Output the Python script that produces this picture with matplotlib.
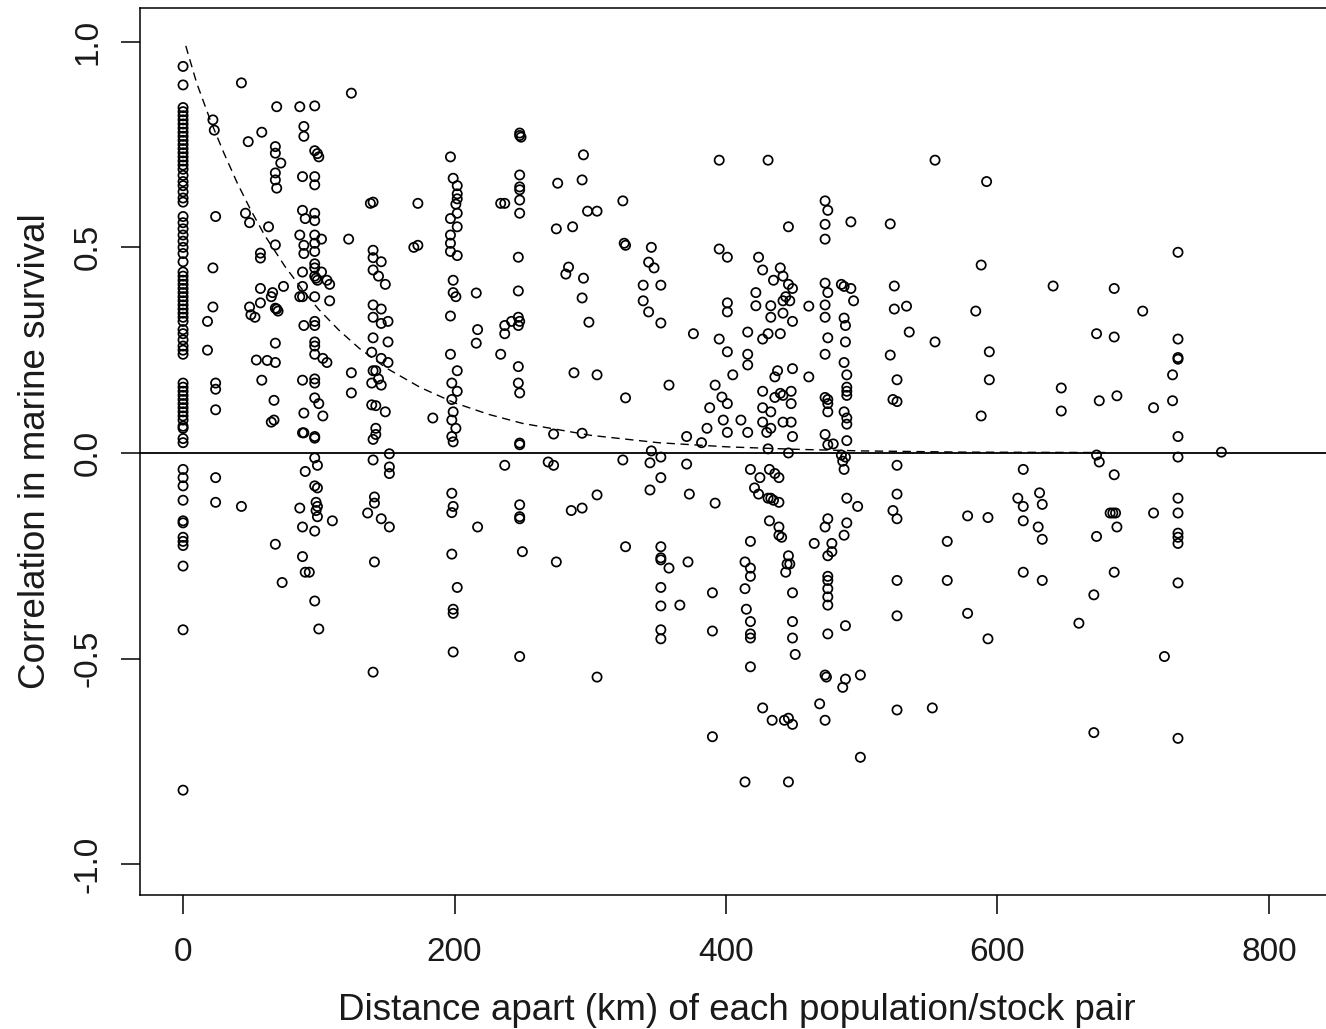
import matplotlib
matplotlib.use("Agg")
import matplotlib.pyplot as plt

# ── Data: distance (km) between each population/stock pair and survival correlation ──
dist = [
    # 0 km column
    0, 0, 0, 0, 0, 0, 0, 0, 0, 0, 0, 0, 0, 0, 0, 0, 0, 0, 0, 0, 0, 0, 0, 0,
    0, 0, 0, 0, 0, 0, 0, 0, 0, 0, 0, 0, 0, 0, 0, 0, 0, 0, 0, 0, 0, 0, 0, 0,
    0, 0, 0, 0, 0, 0, 0, 0, 0, 0, 0, 0, 0, 0, 0, 0, 0, 0, 0, 0, 0, 0, 0, 0,
    0, 0, 0, 0, 0,
    # 18-74 km
    22, 23, 24, 22, 22, 18, 18, 24, 24, 24, 24, 24, 43, 43,
    48, 58, 46, 49, 63, 57, 57, 57, 65, 57, 49, 50, 54, 62, 58, 53,
    69, 68, 68, 72, 68, 68, 69, 68, 68, 69, 70, 68, 68, 67, 67, 65, 68, 73,
    74, 66,
    # 86-110 km
    86, 88, 90, 89, 89, 86, 88, 89, 89, 88, 88, 86, 89, 88, 89, 88, 88, 89,
    90, 86, 88, 88, 90,
    97, 97, 99, 100, 97, 97, 97, 97, 97, 102, 97, 97, 97, 97, 102, 97, 98, 99,
    106, 108, 97, 108, 97, 97, 97, 97, 97, 103, 106, 97, 97, 97, 100, 103, 97,
    97, 97, 99, 97, 99, 98, 99, 98, 99, 110, 97, 93, 97, 100,
    # 120-190 km
    124, 122, 124, 124,
    138, 140, 140, 140, 146, 140, 144, 149, 140, 146, 151, 146, 140, 140, 151,
    139, 146, 151, 140, 142, 144, 139, 146, 139, 142, 149, 142, 142, 140, 140,
    152, 152, 152, 141, 141, 136, 146, 152, 141, 140,
    173, 170, 173, 184,
    # ~200 km
    197, 199, 202, 202, 202, 201, 202, 197, 202, 197, 197, 197, 202, 199, 199,
    201, 197, 197, 202, 198, 202, 198, 199, 198, 201, 198, 199, 198, 199, 198,
    198, 202, 199, 199, 199,
    216, 217, 216, 217,
    # 230-310 km
    234, 237, 248, 248, 249, 248, 248, 248, 248, 248, 247, 247, 234, 237, 237,
    242, 247, 248, 247, 247, 247, 248, 248, 248, 237, 248, 248, 248, 250, 248,
    276, 294, 295, 298, 305, 275, 287, 284, 282, 295, 294, 299, 288, 305, 273,
    294, 269, 273, 305, 286, 294, 275, 305,
    # 320-395 km
    324, 325, 326, 345, 343, 347, 339, 352, 339, 343, 352, 326, 345, 352, 344,
    352, 344, 324, 326, 352, 352, 352, 358, 352, 352, 352, 352,
    358, 376, 371, 373, 392, 372, 390, 366, 390, 390, 386, 382, 371,
    # 395-420 km
    395, 395, 401, 401, 401, 395, 401, 416, 416, 416, 405, 392, 397, 401, 388,
    398, 401, 411, 416, 418, 421, 418, 414, 418, 418, 414, 415, 418, 418, 418,
    418, 414, 427,
    # 420-450 km
    431, 446, 424, 440, 427, 435, 442, 446, 449, 422, 444, 442, 447, 422, 433,
    433, 442, 449, 427, 431, 440, 438, 449, 436, 427, 442, 448, 436, 448, 440,
    427, 433, 427, 433, 430, 442, 448, 449, 431, 446,
    425, 432, 436, 439, 424, 431, 433, 435, 439, 432, 439, 439, 441, 446, 445,
    447, 444, 449, 449, 449, 451, 434, 443, 449, 446, 446,
    461, 461,
    # 460-500 km
    473, 475, 473, 473, 473, 475, 473, 473, 475, 473, 473, 475, 475, 475, 473,
    475, 479, 485, 488, 486,
    475, 473, 465, 478, 478, 475, 475, 475, 475, 475, 475, 475, 473, 474, 469,
    473,
    492, 485, 487, 492, 494, 487, 488, 488, 487, 489, 489, 489, 489, 487, 489,
    489, 489, 487, 489, 497, 489, 487, 488, 488, 486, 499, 499,
    # 520-600 km
    521, 524, 524, 533, 535, 521, 526, 523, 526, 526, 526, 523, 526, 526, 526,
    526,
    554, 554, 563, 563, 552,
    592, 588, 584, 594, 594, 588, 578, 593, 578, 593,
    # 610-770 km
    619, 615, 619, 619, 619,
    641, 647, 647, 631, 633, 630, 633, 633,
    686, 707, 673, 686, 675, 688, 673, 675, 686, 683, 685, 687, 688, 673, 686,
    671, 660, 671,
    733, 733, 733, 733, 729, 715, 729, 733, 733, 733, 733, 733, 733, 733, 715,
    733, 723, 733,
    765,
]

corr = [
    # 0 km column
    0.94, 0.895, 0.84, 0.83, 0.82, 0.81, 0.80, 0.79, 0.78, 0.77, 0.76, 0.75,
    0.74, 0.73, 0.72, 0.71, 0.70, 0.69, 0.675, 0.66, 0.65, 0.635, 0.62, 0.61,
    0.575, 0.56, 0.545, 0.53, 0.515, 0.50, 0.485, 0.465, 0.44, 0.43, 0.42, 0.41,
    0.40, 0.39, 0.38, 0.37, 0.36, 0.35, 0.34, 0.33, 0.32, 0.30, 0.29, 0.275,
    0.26, 0.25, 0.24, 0.17, 0.16, 0.15, 0.14, 0.13, 0.12, 0.11, 0.10, 0.09,
    0.08, 0.065, 0.06, 0.035, 0.025, -0.04, -0.06, -0.08, -0.115, -0.165,
    -0.17, -0.205, -0.215, -0.225, -0.275, -0.43, -0.82,
    # 18-74 km
    0.81, 0.785, 0.575, 0.45, 0.355, 0.32, 0.25, 0.17, 0.155, 0.105, -0.06, -0.12,
    0.90, -0.13,
    0.757, 0.78, 0.583, 0.56, 0.55, 0.486, 0.474, 0.40, 0.38, 0.365, 0.355,
    0.336, 0.226, 0.225, 0.177, 0.33,
    0.842, 0.745, 0.729, 0.705, 0.681, 0.664, 0.644, 0.506, 0.352, 0.35, 0.345,
    0.267, 0.22, 0.128, 0.08, 0.075, -0.222, -0.315,
    0.405, 0.39,
    # 86-110 km
    0.842, 0.59, 0.57, 0.794, 0.77, 0.53, 0.672, 0.505, 0.485, 0.44, 0.405,
    0.38, 0.31, 0.177, 0.097, 0.049, 0.38, 0.049,
    -0.045, -0.134, -0.18, -0.252, -0.29,
    0.844, 0.735, 0.728, 0.72, 0.672, 0.652, 0.583, 0.565, 0.53, 0.52, 0.51,
    0.49, 0.46, 0.45, 0.44, 0.43, 0.425, 0.42,
    0.42, 0.41, 0.38, 0.37, 0.32, 0.31, 0.27, 0.26, 0.24, 0.23, 0.22, 0.18,
    0.17, 0.134, 0.12, 0.09, 0.04,
    0.036, -0.012, -0.03, -0.08, -0.085, -0.12, -0.13, -0.14, -0.155, -0.165,
    -0.19, -0.29, -0.36, -0.428,
    # 120-190 km
    0.875, 0.52, 0.195, 0.146,
    0.607, 0.61, 0.493, 0.475, 0.465, 0.445, 0.43, 0.41, 0.36, 0.35, 0.32,
    0.315, 0.33, 0.28, 0.27, 0.245, 0.23, 0.22, 0.20, 0.20, 0.18, 0.17, 0.165,
    0.117, 0.115, 0.10, 0.06, 0.045, 0.033, -0.017,
    -0.002, -0.034, -0.05, -0.107, -0.122, -0.146, -0.16, -0.18, -0.265, -0.533,
    0.607, 0.50, 0.505, 0.085,
    # ~200 km
    0.72, 0.668, 0.65, 0.63, 0.618, 0.605, 0.583, 0.57, 0.55, 0.53, 0.51, 0.49,
    0.48, 0.42, 0.39, 0.38, 0.333, 0.24, 0.20, 0.17, 0.15, 0.13, 0.10, 0.08,
    0.06, 0.04, 0.027, -0.098, -0.13, -0.145, -0.246, -0.327, -0.38, -0.39,
    -0.484,
    0.389, 0.30, 0.267, -0.18,
    # 230-310 km
    0.607, 0.607, 0.778, 0.772, 0.768, 0.676, 0.647, 0.64, 0.615, 0.583, 0.476,
    0.394, 0.24, 0.31, 0.29, 0.32, 0.33, 0.32, 0.31, 0.21, 0.17, 0.146, 0.024,
    0.02, -0.03, -0.126, -0.155, -0.16, -0.24, -0.495,
    0.656, 0.664, 0.725, 0.588, 0.588, 0.545, 0.55, 0.452, 0.435, 0.425, 0.377,
    0.318, 0.195, 0.19, 0.046, 0.048, -0.022, -0.03, -0.102, -0.14, -0.134,
    -0.265, -0.545,
    # 320-395 km
    0.613, 0.51, 0.134, 0.50, 0.464, 0.45, 0.408, 0.408, 0.37, 0.343, 0.316,
    0.505, 0.005, -0.01, -0.024, -0.06, -0.09, -0.017, -0.228, -0.228, -0.26,
    -0.255, -0.28, -0.327, -0.372, -0.43, -0.452,
    0.165, 0.29, -0.027, -0.10, -0.122, -0.265, -0.34, -0.37, -0.433, -0.69,
    0.06, 0.025, 0.04,
    # 395-420 km
    0.712, 0.496, 0.476, 0.365, 0.343, 0.277, 0.246, 0.294, 0.24, 0.214, 0.19,
    0.165, 0.136, 0.12, 0.11, 0.08, 0.05, 0.08, 0.05, -0.04, -0.085, -0.215,
    -0.265, -0.28, -0.30, -0.33, -0.38, -0.41, -0.44, -0.45, -0.52, -0.80,
    -0.62,
    # 420-450 km
    0.712, 0.55, 0.476, 0.45, 0.445, 0.42, 0.43, 0.41, 0.40, 0.39, 0.38, 0.37,
    0.37, 0.358, 0.358, 0.33, 0.34, 0.32, 0.277, 0.29, 0.29, 0.20, 0.205, 0.185,
    0.15, 0.14, 0.15, 0.135, 0.12, 0.145, 0.11, 0.10, 0.075, 0.06, 0.05, 0.075,
    0.075, 0.04, 0.01, 0.0,
    -0.06, -0.04, -0.05, -0.06, -0.10, -0.11, -0.11, -0.115, -0.12, -0.165,
    -0.18, -0.20, -0.205, -0.25, -0.27, -0.27, -0.29, -0.34, -0.41, -0.45,
    -0.49, -0.65, -0.65, -0.66, -0.645, -0.80,
    0.357, 0.185,
    # 460-500 km
    0.613, 0.59, 0.556, 0.52, 0.413, 0.39, 0.36, 0.33, 0.28, 0.24, 0.135, 0.13,
    0.12, 0.10, 0.045, 0.02, 0.022, -0.005, -0.01, -0.02,
    -0.16, -0.18, -0.22, -0.22, -0.24, -0.25, -0.30, -0.31, -0.33, -0.35, -0.37,
    -0.44, -0.54, -0.545, -0.61, -0.65,
    0.562, 0.41, 0.405, 0.40, 0.37, 0.328, 0.31, 0.27, 0.22, 0.19, 0.16, 0.15,
    0.14, 0.10, 0.085, 0.07, 0.03, -0.04, -0.11, -0.13, -0.17, -0.20, -0.42,
    -0.55, -0.57, -0.54, -0.74,
    # 520-600 km
    0.557, 0.406, 0.35, 0.357, 0.294, 0.238, 0.178, 0.13, 0.125, -0.03, -0.10,
    -0.14, -0.16, -0.31, -0.396, -0.625,
    0.712, 0.27, -0.215, -0.31, -0.62,
    0.66, 0.457, 0.345, 0.246, 0.178, 0.09, -0.153, -0.157, -0.39, -0.452,
    # 610-770 km
    -0.04, -0.11, -0.13, -0.165, -0.29,
    0.406, 0.158, 0.102, -0.097, -0.125, -0.18, -0.21, -0.31,
    0.40, 0.345, 0.29, 0.282, 0.127, 0.139, -0.005, -0.022, -0.053, -0.146,
    -0.146, -0.146, -0.18, -0.203, -0.29, -0.345, -0.414, -0.68,
    0.488, 0.277, 0.232, 0.228, 0.19, 0.11, 0.127, 0.04, -0.01, -0.11, -0.146,
    -0.195, -0.205, -0.22, -0.146, -0.316, -0.495, -0.694,
    0.002,
]

# fitted decay curve
fit_dist = [2, 10, 20, 30, 40, 50, 60, 75, 90, 100, 115, 130, 150, 175, 200,
            225, 250, 300, 350, 400, 450, 500, 575, 680]
fit_corr = [0.99, 0.90, 0.81, 0.73, 0.656, 0.59, 0.53, 0.454, 0.388, 0.349,
            0.298, 0.254, 0.206, 0.159, 0.122, 0.094, 0.072, 0.043, 0.025,
            0.015, 0.009, 0.005, 0.002, 0.001]

x_ticks = [0, 200, 400, 600, 800]
y_ticks = [-1.0, -0.5, 0.0, 0.5, 1.0]
y_tick_labels = ["-1.0", "-0.5", "0.0", "0.5", "1.0"]

TEXT = "#1a1a1a"
plt.rcParams["font.family"] = ["Liberation Sans", "DejaVu Sans"]

fig = plt.figure(figsize=(13.26, 10.29), dpi=100)
ax = fig.add_axes([0.1056, 0.1302, 0.9005, 0.862])

ax.scatter(dist, corr, s=44, facecolors="none", edgecolors="black",
           linewidths=1.25, zorder=3)
ax.axhline(0, color="black", linewidth=1.3, zorder=2)
ax.plot(fit_dist, fit_corr, color="black", linewidth=1.0,
        linestyle=(0, (6, 4)), zorder=2)

ax.set_xlim(-31.7, 848)
ax.set_ylim(-1.075, 1.082)

ax.set_xticks(x_ticks)
ax.set_xticklabels([str(t) for t in x_ticks])
ax.set_yticks(y_ticks)
ax.set_yticklabels(y_tick_labels, rotation=90, va="center")
ax.tick_params(axis="both", direction="out", length=14, width=1.1,
               labelsize=24, labelcolor=TEXT)
ax.tick_params(axis="x", pad=16)
ax.tick_params(axis="y", pad=12)

for spine in ax.spines.values():
    spine.set_linewidth(1.1)

ax.set_xlabel("Distance apart (km) of each population/stock pair",
              fontsize=26.5, color=TEXT, labelpad=18)
ax.set_ylabel("Correlation in marine survival",
              fontsize=26.5, color=TEXT, labelpad=14)

fig.savefig("out.png", dpi=100)
